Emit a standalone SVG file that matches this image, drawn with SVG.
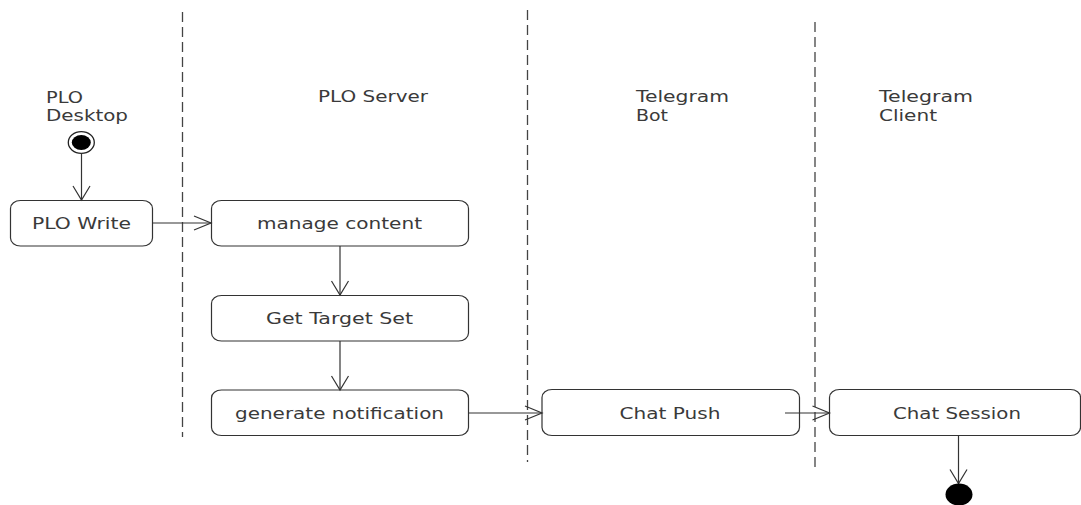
<svg xmlns="http://www.w3.org/2000/svg" width="1081" height="505" viewBox="0 0 1081 505">
<style>
.lane{stroke:#444;stroke-width:1.3;stroke-dasharray:10,5;fill:none}
.box{fill:#fff;stroke:#333;stroke-width:1.2}
.t{font-family:"DejaVu Sans","Liberation Sans",sans-serif;font-size:15px;fill:#3a3a3a}
.c{text-anchor:middle}
.edge{stroke:#333;stroke-width:1.2;fill:none}
</style>
<defs>
<marker id="av" markerUnits="userSpaceOnUse" markerWidth="16" markerHeight="18" refX="14" refY="8.5" orient="auto" overflow="visible">
<path d="M0,0 L14,8.5 L0,17" fill="none" stroke="#333" stroke-width="1.2"/>
</marker>
<marker id="ah" markerUnits="userSpaceOnUse" markerWidth="18" markerHeight="16" refX="17" refY="7" orient="auto" overflow="visible">
<path d="M0,0 L17,7 L0,14" fill="none" stroke="#333" stroke-width="1.2"/>
</marker>
</defs>
<rect width="1081" height="505" fill="#fff"/>
<g id="lanes">
<line class="lane" x1="182.5" y1="12" x2="182.5" y2="437"/>
<line class="lane" x1="527.5" y1="10" x2="527.5" y2="462"/>
<line class="lane" x1="815" y1="22" x2="815" y2="472"/>
<text class="t" x="46" y="103" textLength="37" lengthAdjust="spacingAndGlyphs">PLO</text>
<text class="t" x="46" y="121" textLength="82" lengthAdjust="spacingAndGlyphs">Desktop</text>
<text class="t" x="318" y="102" textLength="110" lengthAdjust="spacingAndGlyphs">PLO Server</text>
<text class="t" x="636" y="102" textLength="93" lengthAdjust="spacingAndGlyphs">Telegram</text>
<text class="t" x="636" y="121" textLength="32" lengthAdjust="spacingAndGlyphs">Bot</text>
<text class="t" x="879" y="102" textLength="94" lengthAdjust="spacingAndGlyphs">Telegram</text>
<text class="t" x="879" y="121" textLength="58" lengthAdjust="spacingAndGlyphs">Client</text>
</g>
<g id="start">
<ellipse cx="81.3" cy="142.5" rx="13" ry="10.8" fill="#fff" stroke="#222" stroke-width="1.3"/>
<ellipse cx="81.3" cy="142.5" rx="9.5" ry="7.5" fill="#000"/>
</g>
<g id="plo-write">
<rect class="box" x="10.5" y="200.5" width="142" height="45.5" rx="10" ry="8"/>
<text class="t c" x="81.5" y="229" textLength="99" lengthAdjust="spacingAndGlyphs">PLO Write</text>
</g>
<g id="manage-content">
<rect class="box" x="211.5" y="200.5" width="257" height="45.5" rx="10" ry="8"/>
<text class="t c" x="339.5" y="229" textLength="165" lengthAdjust="spacingAndGlyphs">manage content</text>
</g>
<g id="get-target-set">
<rect class="box" x="211.5" y="295.5" width="257" height="45.5" rx="10" ry="8"/>
<text class="t c" x="339.5" y="323.5" textLength="147" lengthAdjust="spacingAndGlyphs">Get Target Set</text>
</g>
<g id="generate-notification">
<rect class="box" x="211.5" y="390" width="257" height="45.5" rx="10" ry="8"/>
<text class="t c" x="339.5" y="418.5" textLength="209" lengthAdjust="spacingAndGlyphs">generate notification</text>
</g>
<g id="chat-push">
<rect class="box" x="542" y="389.5" width="257.5" height="46" rx="10" ry="8"/>
<text class="t c" x="670" y="418.5" textLength="101" lengthAdjust="spacingAndGlyphs">Chat Push</text>
</g>
<g id="chat-session">
<rect class="box" x="829.5" y="389.5" width="251" height="46" rx="10" ry="8"/>
<text class="t c" x="957" y="418.5" textLength="128" lengthAdjust="spacingAndGlyphs">Chat Session</text>
</g>
<g id="connectors">
<line class="edge" x1="81.5" y1="153.5" x2="81.5" y2="200" marker-end="url(#av)"/>
<line class="edge" x1="152.5" y1="223" x2="211" y2="223" marker-end="url(#ah)"/>
<line class="edge" x1="340" y1="246" x2="340" y2="295" marker-end="url(#av)"/>
<line class="edge" x1="340" y1="341" x2="340" y2="390" marker-end="url(#av)"/>
<line class="edge" x1="468" y1="413" x2="542" y2="413" marker-end="url(#ah)"/>
<line class="edge" x1="785" y1="413" x2="829.5" y2="413" marker-end="url(#ah)"/>
<line class="edge" x1="958.5" y1="435.5" x2="958.5" y2="483.5" marker-end="url(#av)"/>
</g>
<g id="end">
<ellipse cx="959" cy="494.5" rx="13.5" ry="11" fill="#000"/>
</g>
</svg>
